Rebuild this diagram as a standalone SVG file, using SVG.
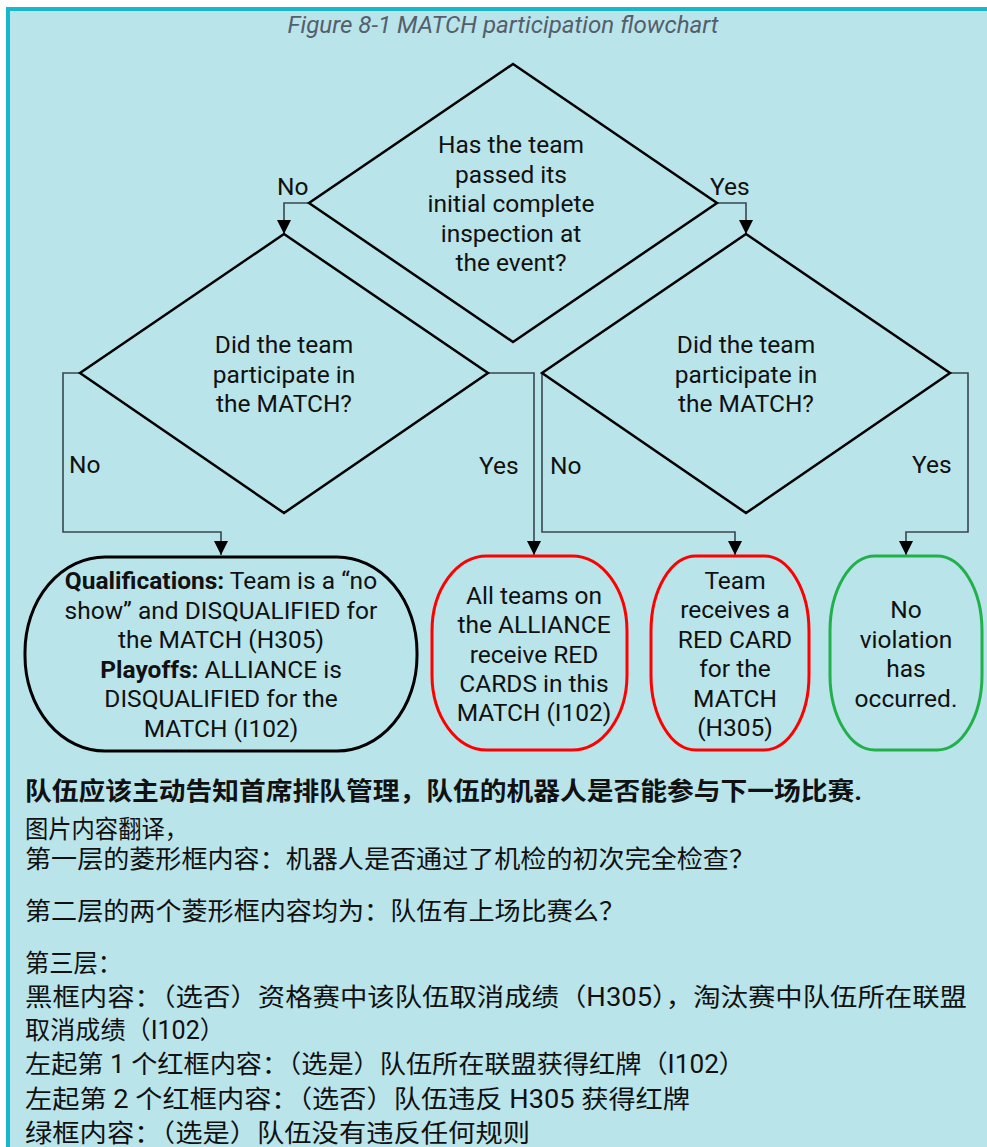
<svg xmlns="http://www.w3.org/2000/svg" width="987" height="1147" viewBox="0 0 987 1147">
  <defs>
    <marker id="arrow" markerWidth="14" markerHeight="14" refX="14" refY="7" orient="auto" markerUnits="userSpaceOnUse" viewBox="0 0 14 14">
      <path d="M0,0 L14,7 L0,14 Z" fill="#000"/>
    </marker>
    <style>
      .frame { fill: #b9e4ea; }
      .edge { fill: #17b8cc; }
      .title { font-family: Roboto, "Liberation Sans", sans-serif; font-style: italic; font-size: 24px; fill: #555e6b; text-anchor: middle; }
      .dia { fill: none; stroke: #000; stroke-width: 2.5; stroke-linejoin: miter; }
      .txt { font-family: Roboto, "Liberation Sans", sans-serif; font-size: 24.5px; fill: #111; text-anchor: middle; }
      .lbl { font-family: Roboto, "Liberation Sans", sans-serif; font-size: 24.5px; fill: #111; }
      .b { font-weight: bold; }
      .conn { fill: none; stroke: #37474f; stroke-width: 1.6; }
      .term { fill: none; stroke-width: 3; }
      .cn { font-family: Roboto, "Noto Sans CJK SC", sans-serif; font-size: 25px; fill: #111; }
    </style>
  </defs>

  <!-- page background and frame -->
  <rect x="0" y="0" width="987" height="1147" fill="#ffffff"/>
  <rect class="edge" x="6" y="7" width="981" height="1140"/>
  <rect class="frame" x="10" y="11" width="977" height="1136"/>

  <text class="title" x="503" y="33" textLength="431" lengthAdjust="spacingAndGlyphs">Figure 8-1 MATCH participation flowchart</text>

  <!-- connectors -->
  <g id="connectors">
    <polyline class="conn" points="309,203 284,203 284,234" marker-end="url(#arrow)"/>
    <polyline class="conn" points="717,203 746,203 746,234" marker-end="url(#arrow)"/>
    <polyline class="conn" points="80,373 63,373 63,532 221,532 221,555" marker-end="url(#arrow)"/>
    <polyline class="conn" points="488,373 534,373 534,555" marker-end="url(#arrow)"/>
    <polyline class="conn" points="542,373 542,532 735,532 735,555" marker-end="url(#arrow)"/>
    <polyline class="conn" points="950,373 968,373 968,532 906,532 906,555" marker-end="url(#arrow)"/>
    <text class="lbl" x="277" y="195">No</text>
    <text class="lbl" x="710" y="195">Yes</text>
    <text class="lbl" x="69" y="473">No</text>
    <text class="lbl" x="479" y="474">Yes</text>
    <text class="lbl" x="550" y="474">No</text>
    <text class="lbl" x="912" y="473">Yes</text>
  </g>

  <!-- decision: inspection -->
  <g id="decision-inspection">
    <polygon class="dia" points="513,64 717,203 513,342 309,203"/>
    <text class="txt" x="511" y="153">Has the team</text>
    <text class="txt" x="511" y="183">passed its</text>
    <text class="txt" x="511" y="212">initial complete</text>
    <text class="txt" x="511" y="242">inspection at</text>
    <text class="txt" x="511" y="271">the event?</text>
  </g>

  <!-- decision: participated (not inspected) -->
  <g id="decision-left">
    <polygon class="dia" points="284,234 488,373 284,513 80,373"/>
    <text class="txt" x="284" y="353">Did the team</text>
    <text class="txt" x="284" y="383">participate in</text>
    <text class="txt" x="284" y="412">the MATCH?</text>
  </g>

  <!-- decision: participated (inspected) -->
  <g id="decision-right">
    <polygon class="dia" points="746,234 950,373 746,513 542,373"/>
    <text class="txt" x="746" y="353">Did the team</text>
    <text class="txt" x="746" y="383">participate in</text>
    <text class="txt" x="746" y="412">the MATCH?</text>
  </g>

  <!-- outcome: disqualified -->
  <g id="outcome-dq">
    <rect class="term" x="25" y="557" width="392" height="194" rx="80" ry="95" stroke="#000"/>
    <text class="txt" x="221" y="589"><tspan class="b">Qualifications:</tspan> Team is a “no</text>
    <text class="txt" x="221" y="619">show” and DISQUALIFIED for</text>
    <text class="txt" x="221" y="648">the MATCH (H305)</text>
    <text class="txt" x="221" y="678"><tspan class="b">Playoffs:</tspan> ALLIANCE is</text>
    <text class="txt" x="221" y="707">DISQUALIFIED for the</text>
    <text class="txt" x="221" y="737">MATCH (I102)</text>
  </g>

  <!-- outcome: alliance red cards -->
  <g id="outcome-alliance-red">
    <rect class="term" x="432" y="556" width="195" height="194" rx="55" ry="75" stroke="#ff0000"/>
    <text class="txt" x="534" y="604">All teams on</text>
    <text class="txt" x="534" y="633">the ALLIANCE</text>
    <text class="txt" x="534" y="663">receive RED</text>
    <text class="txt" x="534" y="692">CARDS in this</text>
    <text class="txt" x="534" y="721">MATCH (I102)</text>
  </g>

  <!-- outcome: team red card -->
  <g id="outcome-team-red">
    <rect class="term" x="651" y="556" width="158" height="194" rx="45" ry="75" stroke="#ff0000"/>
    <text class="txt" x="735" y="589">Team</text>
    <text class="txt" x="735" y="618">receives a</text>
    <text class="txt" x="735" y="648">RED CARD</text>
    <text class="txt" x="735" y="677">for the</text>
    <text class="txt" x="735" y="707">MATCH</text>
    <text class="txt" x="735" y="736">(H305)</text>
  </g>

  <!-- outcome: no violation -->
  <g id="outcome-ok">
    <rect class="term" x="830" y="556" width="152" height="194" rx="45" ry="75" stroke="#22b04b"/>
    <text class="txt" x="906" y="618">No</text>
    <text class="txt" x="906" y="648">violation</text>
    <text class="txt" x="906" y="677">has</text>
    <text class="txt" x="906" y="707">occurred.</text>
  </g>

  <!-- notes -->
  <g id="notes">
    <text class="cn b" x="25" y="800" textLength="837" lengthAdjust="spacingAndGlyphs">队伍应该主动告知首席排队管理，队伍的机器人是否能参与下一场比赛.</text>
    <text class="cn" x="25" y="838" textLength="163" lengthAdjust="spacingAndGlyphs">图片内容翻译，</text>
    <text class="cn" x="25" y="868" textLength="730" lengthAdjust="spacingAndGlyphs">第一层的菱形框内容：机器人是否通过了机检的初次完全检查？</text>
    <text class="cn" x="25" y="920" textLength="600" lengthAdjust="spacingAndGlyphs">第二层的两个菱形框内容均为：队伍有上场比赛么？</text>
    <text class="cn" x="25" y="972" textLength="97" lengthAdjust="spacingAndGlyphs">第三层：</text>
    <text class="cn" x="25" y="1006" textLength="942" lengthAdjust="spacingAndGlyphs">黑框内容：（选否）资格赛中该队伍取消成绩（H305），淘汰赛中队伍所在联盟</text>
    <text class="cn" x="25" y="1039" textLength="200" lengthAdjust="spacingAndGlyphs">取消成绩（I102）</text>
    <text class="cn" x="25" y="1073" textLength="720" lengthAdjust="spacingAndGlyphs">左起第 1 个红框内容：（选是）队伍所在联盟获得红牌（I102）</text>
    <text class="cn" x="25" y="1108" textLength="665" lengthAdjust="spacingAndGlyphs">左起第 2 个红框内容：（选否）队伍违反 H305 获得红牌</text>
    <text class="cn" x="25" y="1142" textLength="505" lengthAdjust="spacingAndGlyphs">绿框内容：（选是）队伍没有违反任何规则</text>
  </g>
</svg>
